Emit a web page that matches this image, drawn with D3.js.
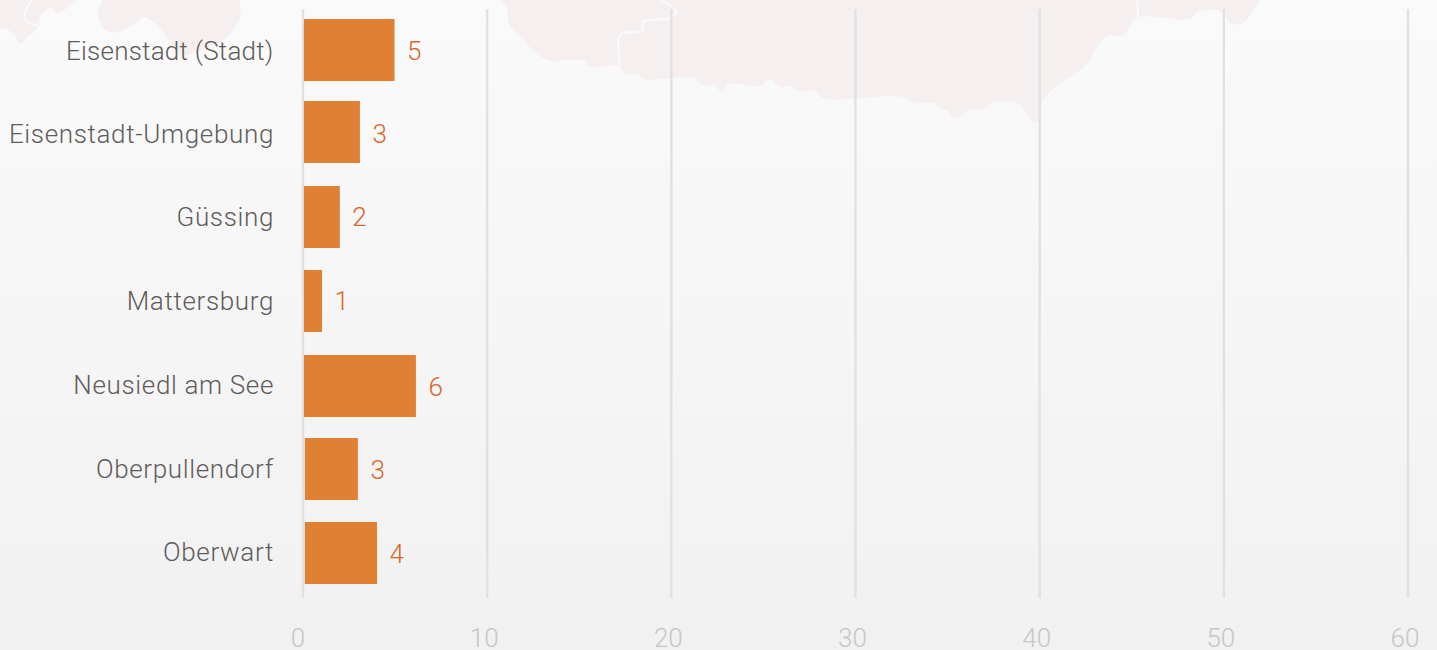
<!DOCTYPE html>
<html><head><meta charset="utf-8">
<script src="https://cdn.jsdelivr.net/npm/d3@7"></script>
<style>
html,body{margin:0;padding:0;overflow:hidden}
svg{display:block;font-family:Roboto,sans-serif;font-weight:300}
</style></head><body><svg id="c" width="1437" height="650"></svg>
<script>
const categories=["Eisenstadt (Stadt)","Eisenstadt-Umgebung","Güssing","Mattersburg","Neusiedl am See","Oberpullendorf","Oberwart"];
const values=[5,3,2,1,6,3,4];
const barStarts=[0.05,0.05,0.05,0.05,0.05,0.1,0.1];
const barEnds=[4.97,3.09,2,1.03,6.13,2.98,4.02];
const xTicks=[0,10,20,30,40,50,60];

// decorative backdrop outline (page-space geometry)
const mapMain=[[500,-5],[500,0],[507,8],[508,22],[523,40],[547,60],[583,60],[590,67],[618,66],[625,74],[638,74],[643,79],[693,78],[702,85],[715,85],[721,92],[728,84],[760,86],[770,79],[780,87],[792,86],[798,91],[815,91],[823,98],[850,99],[890,96],[905,98],[912,103],[933,103],[942,110],[947,110],[953,117],[960,117],[970,109],[982,109],[990,103],[1018,103],[1033,122],[1040,120],[1043,100],[1088,63],[1094,52],[1107,36],[1123,36],[1137,18],[1190,19],[1197,12],[1220,11],[1232,24],[1243,23],[1260,0],[1263,-5]];
const mapLeftA=[[0,28],[8,30],[15,35],[20,43],[30,35],[37,28],[40,17],[50,7],[58,13],[73,2],[78,-5],[0,-5]];
const mapLeftB=[[105,-5],[98,13],[105,30],[117,32],[137,22],[143,17],[157,25],[167,37],[180,55],[200,50],[227,37],[240,17],[239,-5]];
const boundaryA=[[620,65],[619,37],[623,33],[642,31],[643,22],[670,18],[676,12],[662,0]];
const boundaryB=[[1138,17],[1137,-2]];
const boundaryC=[[32,-1],[25,13],[27,22],[38,25]];

const svg=d3.select("#c");
const W=1437,H=650;
const defs=svg.append("defs");
const g=defs.append("linearGradient").attr("id","bg").attr("x1",0).attr("x2",0).attr("y1",0).attr("y2",1);
g.append("stop").attr("offset",0).attr("stop-color","#fafafa");
g.append("stop").attr("offset",1).attr("stop-color","#f1f1f1");
svg.append("rect").attr("width",W).attr("height",H).attr("fill","url(#bg)");

const ln=d3.line().curve(d3.curveCatmullRom.alpha(0.5));
[mapMain,mapLeftA,mapLeftB].forEach(p=>svg.append("path").attr("d",ln(p)+"Z").attr("fill","#f5f0ef"));
[boundaryA,boundaryB,boundaryC].forEach(b=>svg.append("path").attr("d",ln(b)).attr("fill","none").attr("stroke","#fafafa").attr("stroke-width",2));

const x=d3.scaleLinear().domain([0,60]).range([303,1408]);
const y=d3.scaleOrdinal().domain(categories).range([19,101,186,270,355,438,522]);
const labelY=d3.scaleOrdinal().domain(categories).range([60,143,226,310,394,478,561]);
const valueY=d3.scaleOrdinal().domain(categories).range([60,143,226,310,396,479,563]);
const barH=62;

// grid
svg.append("g").selectAll("line").data(xTicks).join("line")
 .attr("x1",d=>x(d)).attr("x2",d=>x(d)).attr("y1",9).attr("y2",598)
 .attr("stroke","#e1e1e1").attr("stroke-width",2.4);

svg.append("g").selectAll("text").data(xTicks).join("text")
 .attr("x",d=>x(d)-(d===0?5:3)).attr("y",647).attr("text-anchor","middle")
 .attr("font-size",26).attr("fill","#c6c6c6").text(d=>d);

svg.append("g").selectAll("rect").data(categories).join("rect")
 .attr("x",(d,i)=>x(barStarts[i])).attr("width",(d,i)=>x(barEnds[i])-x(barStarts[i]))
 .attr("y",d=>y(d)).attr("height",barH).attr("fill","#e08033");

svg.append("g").selectAll("text").data(categories).join("text")
 .attr("x",274).attr("y",d=>labelY(d)).attr("text-anchor","end")
 .attr("font-size",26).attr("letter-spacing",0.65).attr("fill","#605b59")
 .attr("textLength",d=>d.includes("(")?208:null).attr("lengthAdjust","spacing").text(d=>d);

svg.append("g").selectAll("text").data(categories).join("text")
 .attr("x",(d,i)=>x(barEnds[i])+12.5).attr("y",d=>valueY(d))
 .attr("font-size",26).attr("fill","#d9662a").text((d,i)=>values[i]);
</script></body></html>
